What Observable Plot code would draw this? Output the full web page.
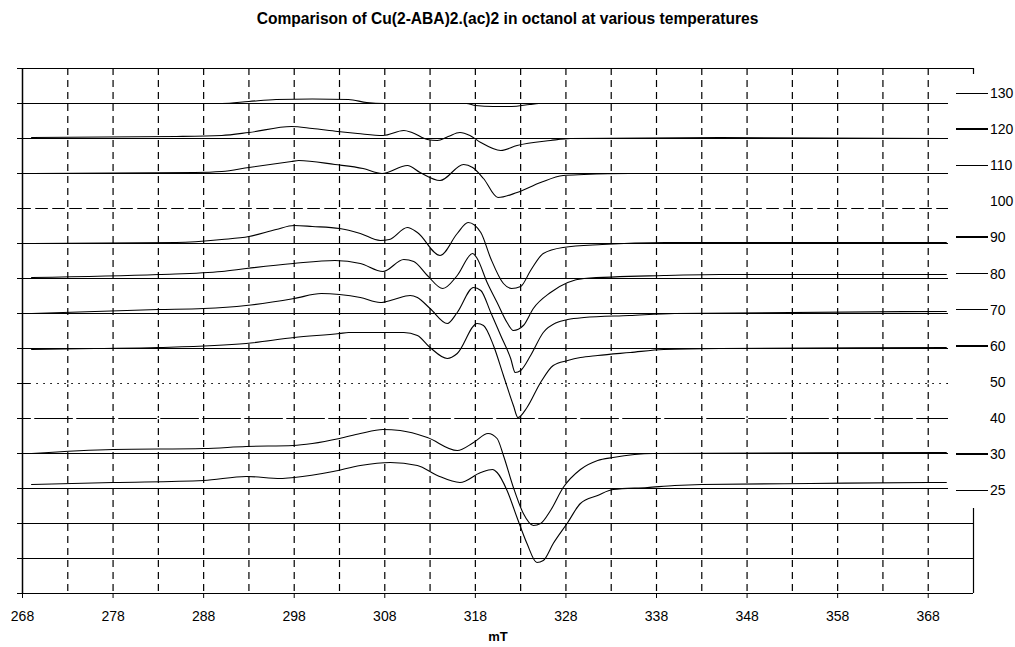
<!DOCTYPE html>
<html>
<head>
<meta charset="utf-8">
<script src="https://cdn.jsdelivr.net/npm/d3@7"></script>
<script src="https://cdn.jsdelivr.net/npm/@observablehq/plot@0.6"></script>
<style>
  html, body { margin: 0; padding: 0; background: #fff; }
  #wrap { position: relative; width: 1015px; height: 647px; overflow: hidden; font-family: "Liberation Sans", Arial, sans-serif; }
  #title { height: 50px; width: 1015px; text-align: center; font-weight: bold; font-size: 15.6px; line-height: 37px; color: #000; }
  #legend { position: absolute; left: 948px; top: 74px; width: 67px; height: 434px; background: #fff; }
  .item { position: absolute; left: 0; height: 20px; display: flex; align-items: center; font-size: 14px; color: #000; }
  .item span.sw { display: inline-block; width: 32px; margin-left: 8px; margin-right: 2px; }
</style>
</head>
<body>
<div id="wrap">
  <div id="title">Comparison of Cu(2-ABA)2.(ac)2 in octanol at various temperatures</div>
  <div id="chart"></div>
  <div id="legend"></div>
</div>
<script>
// Temperatures (legend order, top to bottom)
const temps = ["130", "120", "110", "100", "90", "80", "70", "60", "50", "40", "30", "25"];

// Field axis ticks (mT)
const xTicks = [268, 278, 288, 298, 308, 318, 328, 338, 348, 358, 368];

// EPR traces: [field mT, signal a.u. relative to the trace's own baseline]
const trace130 = [[269,0],[280,0],[290,0],[293,2],[296,4],[300,4.5],[304,4],[306,1],[308,0],[317,0],[318,-2],[320,-3],[322,-3],[324,-1],[325,0],[340,0],[370,0]];
const trace120 = [[269,1],[285,2],[290,3],[293,6],[297.7,12],[300,10],[302.8,7],[305,5],[307.8,3],[310.1,8],[311,6],[312.7,-1],[313.8,-2],[315,2],[316.3,6],[317.4,3],[318.6,-4],[320.8,-12],[322.6,-7],[326.3,-2],[328.5,0],[345,1],[370,0]];
const trace110 = [[269,0],[287,1],[290,2],[293,6],[297.7,12],[298.5,13],[302.5,9],[305.6,5],[307.7,0],[310.5,8],[311.9,1],[314.1,-7],[316.7,9],[317.7,6],[318.9,-5],[320.5,-24],[322.6,-19],[325.2,-9],[327.7,-2],[330,-1],[335,0],[370,0]];
const trace100 = [[269,0],[370,0]];
const trace90 = [[269,0],[285,1],[290,4],[293,7],[296,14],[298,18],[300,17],[303,15],[305.3,10],[307.5,3],[308.5,4],[310.5,16],[311.6,11],[314.1,-12],[316,10],[317.2,21],[318.6,11],[319.7,-15],[321.1,-40],[322,-45],[323,-43],[324.1,-27],[325.5,-10],[327.7,-4],[332,-1],[339,1],[370,1]];
const trace80 = [[269,1],[283,4],[290,7],[292.7,10],[297.9,15],[302.5,18],[305.3,15],[307.8,7],[310.1,19],[311.2,17],[312.7,3],[314.4,-10],[316,3],[317.7,25],[318.2,20],[319.3,-4],[320.4,-24],[321.5,-44],[322.2,-52],[323.3,-47],[324.4,-30],[326.3,-14],[328.2,-4],[330,0],[338.8,3],[345,4],[370,4]];
const trace70 = [[269,0],[283,4],[288,5],[292.7,8],[298,15],[301,20],[303,19],[305.3,16],[307.5,11],[309,14],[310.8,18],[311.6,16],[313,5],[314.9,-10],[316,1],[317.8,26],[318.6,23],[319.7,1],[320.8,-22],[321.9,-45],[322.4,-59],[323,-57],[324.1,-42],[325.5,-19],[327,-9],[328.2,-6],[330,-4],[335,-2],[340,0],[370,2]];
const trace60 = [[269,-1],[276,0],[283,1],[292.7,5],[298,11],[303,15],[304,16],[307,16],[310.1,16],[311.6,13],[313,1],[314.9,-10],[316,-5],[318.2,25],[318.9,23],[320,3],[321.1,-27],[322.2,-57],[322.7,-69],[323.7,-59],[325.2,-34],[326.6,-17],[328.2,-12],[329.6,-9],[331.5,-7],[335.1,-4],[338.8,-1],[345,0],[370,1]];
const trace50 = [[269,0],[370,0]];
const trace40 = [[269,0],[370,0]];
const trace30 = [[269,0],[278,4],[288,5],[292.7,7],[297.9,8],[300,10],[303,15],[305.3,20],[307.8,24],[309.7,23],[312.7,16],[316,3],[317.8,11],[319.4,20],[320.4,15],[321.1,-2],[322.2,-34],[323.3,-60],[324.4,-72],[325.2,-70],[326.3,-57],[327.7,-34],[329.6,-16],[331.5,-7],[333.2,-4],[337.6,0],[370,1]];
const trace25 = [[269,4],[278,6],[288,8],[292.7,12],[296.5,10],[298,11],[302.3,17],[305.3,23],[308.6,26],[311.6,23],[313.8,13],[316.3,6],[318.6,16],[319.9,19],[320.4,16],[321.5,-2],[322.6,-29],[323.7,-55],[324.8,-74],[325.5,-72],[326.6,-55],[328.2,-34],[329.6,-15],[331.5,-7],[333.2,-1],[337,1],[340,3],[343,4],[355,5],[368,6],[370,6]];

const traces = [trace130, trace120, trace110, trace100, trace90, trace80, trace70, trace60, trace50, trace40, trace30, trace25];
const flatTemps = ["100", "50", "40"];

// display styling
const step = 35;                       // a.u. between stacked baselines
const levels = d3.range(0, 15 * step + 1, step);
const legendWeight = {"130":1, "120":2, "110":1, "100":0, "90":2, "80":1, "70":1, "60":2, "50":0, "40":0, "30":2, "25":1};
const flatDash = {"100": "3,14", "50": "4,3", "40": "2,40"};

const rows = [];
temps.forEach((t, i) => {
  const base = (14 - i) * step;
  traces[i].forEach(([x, v]) => rows.push({temp: t, x, y: base + v}));
});
const signalRows = rows.filter(d => !flatTemps.includes(d.temp));

const flatMarks = flatTemps.map(t => Plot.line(rows.filter(d => d.temp === t), {
  x: "x", y: "y", stroke: "#fff", strokeWidth: 1.6, strokeDasharray: flatDash[t]
}));

const chart = Plot.plot({
  width: 1015,
  height: 597,
  marginTop: 18,
  marginBottom: 54,
  marginLeft: 22,
  marginRight: 42,
  x: {domain: [268, 373]},
  y: {domain: [0, 15 * step]},
  style: {fontFamily: "'Liberation Sans', Arial, sans-serif", fontSize: "14px", color: "#000", background: "#fff", overflow: "visible"},
  marks: [
    Plot.ruleX(d3.range(273, 369, 5), {stroke: "#000", strokeWidth: 1.2, strokeDasharray: "7,5"}),
    Plot.ruleY(levels, {stroke: "#000", strokeWidth: 1.2}),
    ...flatMarks,
    Plot.ruleX([268], {stroke: "#000", strokeWidth: 1.5}),
    Plot.ruleX([373], {stroke: "#000", strokeWidth: 1.2}),
    Plot.axisX({ticks: xTicks, tickSize: 5, tickPadding: 13, tickFormat: d => String(d), label: null, fontSize: 14}),
    Plot.axisY({ticks: levels, tickSize: 5, tickFormat: () => "", label: null}),
    Plot.line(signalRows, {x: "x", y: "y", z: "temp", curve: "monotone-x", stroke: "#000", strokeWidth: 1.1}),
    Plot.text(["mT"], {frameAnchor: "bottom", dy: 47, fontWeight: "bold", fontSize: 13})
  ]
});
document.getElementById("chart").appendChild(chart);

// legend (drawn over the right edge of the frame, as in the original)
const legend = document.getElementById("legend");
temps.forEach((t, i) => {
  const item = document.createElement("div");
  item.className = "item";
  item.style.top = (93 + 36.1 * i - 74 - 10) + "px";
  const sw = document.createElement("span");
  sw.className = "sw";
  const w = legendWeight[t];
  sw.style.borderTop = w ? `${w}px solid #000` : "1px solid #fff";
  const lab = document.createElement("span");
  lab.textContent = t;
  item.appendChild(sw);
  item.appendChild(lab);
  legend.appendChild(item);
});
</script>
</body>
</html>
